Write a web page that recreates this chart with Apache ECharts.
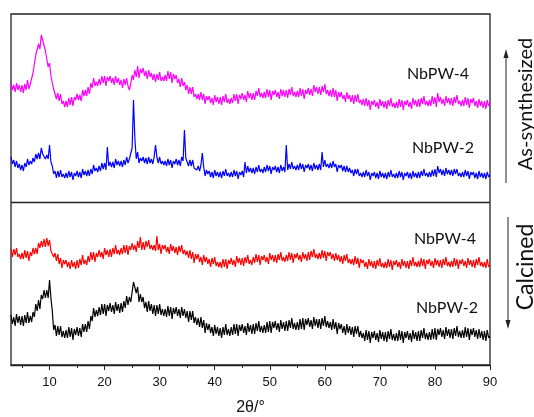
<!DOCTYPE html>
<html>
<head>
<meta charset="utf-8">
<script src="https://cdn.jsdelivr.net/npm/echarts@6/dist/echarts.min.js"></script>
<style>html,body{margin:0;padding:0;background:#fff;}#c{width:534px;height:417px;}</style>
</head>
<body>
<div id="c"></div>
<script>
// 2θ sampling grid: 3° to 90° in 0.25° steps
const thetaStart = 3, thetaStep = 0.25, thetaCount = 349;
const xTickLabels = [10, 20, 30, 40, 50, 60, 70, 80, 90];
const xMinorTicks = [5, 15, 25, 35, 45, 55, 65, 75, 85];

// Intensities (arbitrary offset-stacked units), one row per degree
const asSynNbPW4 = [
282,275,280,273, 282,275,280,273, 280,272,281,275, 285,276,281,280, 292,293,310,308,
321,316,330,325, 327,314,312,298, 302,289,288,276, 278,266,272,264, 271,261,264,258,
264,258,267,260, 268,259,268,265, 271,265,270,264, 275,269,275,269, 278,271,282,277,
287,279,283,279, 286,280,289,282, 289,279,288,284, 289,282,287,280, 289,282,287,280,
285,277,286,280, 287,279,275,281, 290,285,295,288, 299,287,296,292, 297,289,294,286,
295,288,292,285, 291,283,291,285, 293,284,288,284, 290,284,294,286, 293,282,291,286,
290,282,286,278, 287,279,283,275, 280,271,278,271, 278,268,271,266, 271,265,273,265,
271,261,269,265, 269,262,267,260, 270,263,268,261, 268,260,269,263, 271,262,266,261,
267,262,271,264, 271,261,270,266, 272,265,270,263, 274,267,272,265, 272,265,274,269,
277,268,272,267, 273,267,276,268, 275,265,274,270, 275,268,273,266, 276,269,275,268,
275,267,276,270, 278,269,273,268, 274,268,277,269, 276,266,275,271, 277,270,276,269,
280,273,278,271, 278,270,279,273, 281,271,275,269, 275,268,277,268, 275,264,273,268,
273,266,270,263, 273,266,270,263, 270,261,270,263, 271,262,265,260, 266,259,267,259,
265,255,264,260, 265,258,263,256, 266,259,264,257, 264,256,265,259, 267,258,262,257,
263,257,266,258, 265,255,264,260, 265,258,263,256, 267,260,265,258, 266,258,267,261,
269,260,264,259, 265,259,269,261, 268,258,272,263, 268,261,266,259, 269,262,267,260,
267,259,268,262, 270,261,264,259, 265,259,268,260, 267,257,266,262, 267,259,264,257,
266,259,264,257, 264,256,265,259,
262
];
const asSynNbPW2 = [
208,201,205,198, 204,197,201,195, 200,194,202,198, 206,200,204,201, 207,203,211,206,
212,206,217,211, 213,206,210,206, 220,203,199,191, 194,187,194,188, 195,188,191,187,
192,187,194,188, 193,185,192,189, 194,188,193,187, 196,190,194,189, 195,189,196,191,
200,194,197,193, 199,194,202,196, 202,195,218,199, 203,198,203,197, 206,200,204,199,
204,198,205,200, 208,202,206,205, 217,265,226,206, 213,202,207,204, 208,202,207,201,
208,202,206,201, 208,220,208,202, 208,201,204,200, 204,199,206,200, 205,197,204,201,
206,200,205,199, 208,204,235,207, 207,199,205,199, 205,197,199,195, 199,194,200,212,
198,189,195,191, 194,188,193,187, 195,189,193,188, 193,187,194,189, 196,189,192,188,
193,188,195,189, 194,186,193,190, 194,188,203,192, 199,193,197,192, 197,191,198,193,
200,193,196,192, 198,193,200,194, 199,191,198,195, 199,193,198,192, 200,194,198,193,
220,195,201,196, 203,196,199,195, 200,195,202,196, 201,193,200,197, 201,195,200,194,
202,196,200,195, 201,195,213,198, 205,198,201,197, 202,197,204,198, 201,193,200,197,
200,194,199,193, 199,193,197,192, 195,189,196,191, 196,189,192,188, 193,188,195,189,
193,185,192,189, 193,187,192,186, 194,188,192,187, 192,186,193,188, 195,188,191,187,
192,187,194,188, 193,185,192,189, 193,187,192,186, 194,188,192,187, 193,187,194,189,
196,189,192,188, 193,188,195,189, 196,188,199,192, 196,190,195,189, 197,191,195,190,
195,189,196,191, 196,189,192,188, 193,188,195,189, 194,186,193,190, 193,187,192,186,
194,188,192,187, 192,186,193,188,
190
];
const calNbPW4 = [
116,108,116,110, 117,108,111,106, 112,106,115,107, 114,104,113,109, 117,111,117,111,
122,117,124,118, 126,118,127,119, 125,114,116,108, 112,104,111,101, 107,97,105,101,
105,98,103,96, 105,98,103,96, 105,97,106,100, 110,101,105,100, 109,103,113,105,
113,103,112,108, 115,108,113,106, 117,110,115,108, 116,108,117,111, 120,111,115,110,
117,111,120,112, 120,110,119,115, 122,115,120,113, 124,117,128,115, 123,115,124,118,
125,116,120,115, 120,114,129,115, 121,111,120,116, 120,113,118,111, 121,114,119,112,
118,110,119,113, 120,111,115,110, 114,107,115,106, 113,102,111,106, 111,103,108,100,
110,103,108,101, 106,98,107,101, 108,99,103,98, 103,97,106,98, 106,96,105,101,
107,100,105,98, 109,102,107,100, 107,99,108,102, 110,101,105,100, 108,102,111,103,
110,100,109,105, 110,103,108,101, 112,105,110,103, 110,102,111,105, 113,104,108,103,
110,104,113,105, 112,102,111,107, 112,105,110,103, 113,106,111,104, 113,105,114,108,
116,107,111,106, 112,106,115,107, 114,104,113,109, 113,106,111,104, 112,105,110,103,
109,101,110,104, 111,102,106,101, 106,100,109,101, 107,97,106,102, 105,98,103,96,
106,99,104,97, 104,96,105,99, 107,98,102,97, 103,97,106,98, 105,95,104,100,
105,98,103,96, 106,99,104,97, 104,96,105,99, 108,99,103,98, 104,98,107,99,
106,96,105,101, 106,99,104,97, 107,100,105,98, 105,97,106,100, 108,99,103,98,
104,98,107,99, 106,96,105,101, 106,99,104,97, 107,100,105,98, 105,97,106,100,
108,99,103,98, 103,97,106,98,
100
];
const calNbPW2 = [
50,41,48,39, 51,42,49,40, 49,39,50,42, 53,42,49,43, 53,48,61,54,
65,56,70,66, 75,67,75,67, 85,67,54,35, 40,29,39,30, 39,28,34,27,
35,27,38,28, 37,25,36,30, 38,29,37,28, 41,33,41,33, 44,36,49,44,
57,48,55,49, 58,50,61,51, 61,49,60,54, 62,53,60,51, 63,54,61,52,
62,53,64,57, 69,60,68,63, 73,83,83,72, 78,63,71,63, 68,57,63,53,
64,54,61,51, 60,49,60,51, 61,50,56,49, 56,48,59,49, 58,46,57,51,
58,49,56,47, 58,49,56,47, 54,43,54,45, 54,42,48,40, 47,38,48,37,
45,32,42,35, 41,32,38,29, 40,31,38,29, 37,27,38,30, 41,30,36,29,
38,30,41,31, 41,29,40,34, 41,32,39,30, 42,33,40,31, 41,31,42,34,
44,33,39,32, 40,32,43,33, 44,32,43,37, 44,35,42,33, 45,36,43,34,
44,34,45,37, 47,36,42,35, 43,35,46,36, 47,35,46,40, 47,38,45,36,
48,39,46,37, 46,36,47,39, 49,38,44,37, 43,35,46,36, 43,31,42,36,
41,32,39,30, 41,32,39,30, 38,28,39,31, 39,28,34,27, 32,24,35,25,
34,22,33,27, 34,25,32,23, 35,26,33,24, 33,23,34,26, 36,25,31,24,
32,24,35,25, 34,22,33,27, 34,25,32,23, 35,26,33,24, 34,24,35,27,
37,26,32,25, 33,25,36,26, 37,25,36,30, 37,28,35,26, 38,29,36,27,
36,26,37,29, 39,28,34,27, 35,27,38,28, 37,25,36,30, 37,28,35,26,
36,27,34,25, 34,24,35,27,
29
];
const dividerLevel = 163;
const seriesNames = ['NbPW-4 (as-synthesized)', 'NbPW-2 (as-synthesized)', 'NbPW-4 (calcined)', 'NbPW-2 (calcined)'];

const theta = [];
for (let i = 0; i < thetaCount; i++) theta.push(thetaStart + i * thetaStep);
const pair = arr => arr.map((v, i) => [theta[i], v]);

const chart = echarts.init(document.getElementById('c'), null, {renderer: 'canvas'});
const lineSeries = (name, data, color) => ({
  name, type: 'line', data: pair(data), showSymbol: false, symbol: 'none',
  lineStyle: {color, width: 1.2}, itemStyle: {color}, animation: false, silent: true
});
const s0 = lineSeries(seriesNames[0], asSynNbPW4, '#ff00ff');
s0.markLine = {silent: true, symbol: 'none', label: {show: false},
  lineStyle: {color: '#222', width: 1.3, type: 'solid'}, data: [{yAxis: dividerLevel}]};

const arrowColor = '#222';
chart.setOption({
  backgroundColor: '#fff',
  animation: false,
  grid: {left: 11, right: 44, top: 14, bottom: 52, containLabel: false, outerBoundsMode: 'none',
    show: true, borderColor: '#222', borderWidth: 1.3, backgroundColor: 'transparent'},
  xAxis: [{
    type: 'value', min: 3, max: 90,
    name: '2θ/°', nameLocation: 'middle', nameGap: 35,
    nameTextStyle: {fontFamily: 'Liberation Sans', fontSize: 16, color: '#111'},
    axisLine: {show: true, lineStyle: {color: '#222', width: 1.3}},
    axisTick: {show: true, inside: false, length: 5, customValues: xTickLabels, lineStyle: {color: '#222'}},
    axisLabel: {show: true, customValues: xTickLabels, margin: 11, fontFamily: 'Liberation Sans', fontSize: 13, color: '#111'},
    splitLine: {show: false}
  }, {
    type: 'value', min: 3, max: 90, position: 'bottom',
    axisLine: {show: false},
    axisTick: {show: true, inside: false, length: 3, customValues: xMinorTicks, lineStyle: {color: '#222'}},
    axisLabel: {show: false}, splitLine: {show: false}
  }],
  yAxis: {type: 'value', min: 0, max: 351, show: false},
  series: [
    s0,
    lineSeries(seriesNames[1], asSynNbPW2, '#0000ff'),
    lineSeries(seriesNames[2], calNbPW4, '#ff0000'),
    lineSeries(seriesNames[3], calNbPW2, '#000000')
  ],
  graphic: [
    {type: 'text', left: 407, top: 66, style: {text: 'NbPW-4', font: '16px Lato', fill: '#111'}},
    {type: 'text', left: 412, top: 140, style: {text: 'NbPW-2', font: '16px Lato', fill: '#111'}},
    {type: 'text', left: 414, top: 231, style: {text: 'NbPW-4', font: '16px Lato', fill: '#111'}},
    {type: 'text', left: 416, top: 300, style: {text: 'NbPW-2', font: '16px Lato', fill: '#111'}},
    {type: 'text', x: 526, y: 104, rotation: Math.PI / 2,
      style: {text: 'As-synthesized', font: '20px Lato', fill: '#111', align: 'center', verticalAlign: 'middle'}},
    {type: 'text', x: 526, y: 267, rotation: Math.PI / 2,
      style: {text: 'Calcined', font: '23px Lato', fill: '#111', align: 'center', verticalAlign: 'middle'}},
    {type: 'line', shape: {x1: 506, y1: 183, x2: 506, y2: 56}, style: {stroke: arrowColor, lineWidth: 1}},
    {type: 'polygon', shape: {points: [[503.5, 58], [508.5, 58], [506, 49]]}, style: {fill: arrowColor}},
    {type: 'line', shape: {x1: 508, y1: 217, x2: 508, y2: 321}, style: {stroke: arrowColor, lineWidth: 1}},
    {type: 'polygon', shape: {points: [[505.5, 320], [510.5, 320], [508, 329]]}, style: {fill: arrowColor}}
  ]
});
</script>
</body>
</html>
